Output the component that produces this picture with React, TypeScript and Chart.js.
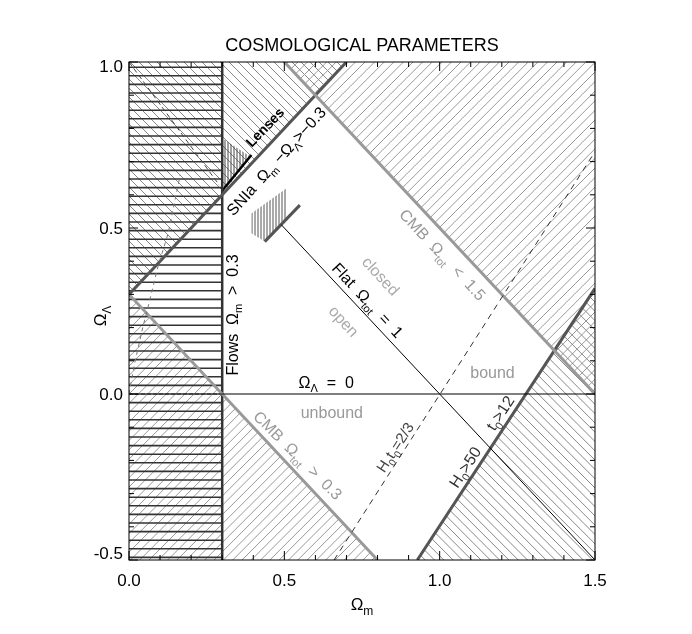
import React, { useEffect, useRef } from "react";
import { Chart, registerables } from "chart.js";
Chart.register(...registerables);

// ---- axes ----
const xRange = [0, 1.5];
const yRange = [-0.5, 1.0];
const xTickValues = [0, 0.5, 1.0, 1.5];
const yTickValues = [-0.5, 0, 0.5, 1.0];
const minorStep = 0.1;
const titleText = "COSMOLOGICAL PARAMETERS";

// ---- constraint lines (Omega_m, Omega_Lambda) ----
const flowsLine = [{ x: 0.3, y: -0.5 }, { x: 0.3, y: 1.0 }];
const sniaLine = [{ x: 0.0, y: 0.3 }, { x: 0.7, y: 1.0 }];
const cmbLowLine = [{ x: 0.0, y: 0.3 }, { x: 0.8, y: -0.5 }];
const cmbHighLine = [{ x: 0.5, y: 1.0 }, { x: 1.5, y: 0.0 }];
const ageLine = [{ x: 0.928, y: -0.5 }, { x: 1.5, y: 0.318 }];
const lambdaZeroLine = [{ x: 0.3, y: 0.0 }, { x: 1.5, y: 0.0 }];
const lambdaZeroLeft = [{ x: 0.0, y: 0.0 }, { x: 0.3, y: 0.0 }];
const flatLine = [{ x: 0.49, y: 0.51 }, { x: 1.5, y: -0.5 }];
const h0t0Line = [{ x: 0.66, y: -0.5 }, { x: 1.5, y: 0.73 }];
const lensSegment = [{ x: 0.3, y: 0.612 }, { x: 0.394, y: 0.72 }];
const sniaSegment = [{ x: 0.437, y: 0.459 }, { x: 0.55, y: 0.569 }];
const leftCurve = [
  { x: 0.0, y: 0.0 }, { x: 0.018, y: 0.092 }, { x: 0.045, y: 0.203 }, { x: 0.067, y: 0.283 },
  { x: 0.093, y: 0.383 }, { x: 0.126, y: 0.484 }, { x: 0.148, y: 0.584 }, { x: 0.165, y: 0.66 },
];
const leftDashed = [{ x: 0.0, y: 1.0 }, { x: 0.29, y: 0.63 }];

// ---- excluded regions (polygons) ----
const flowsRegion = [[0, -0.5], [0.3, -0.5], [0.3, 1.0], [0, 1.0]];
const sniaRegion = [[0, 0.3], [0.7, 1.0], [0, 1.0]];
const cmbLowRegion = [[0, 0.3], [0.8, -0.5], [0, -0.5]];
const cmbHighRegion = [[0.5, 1.0], [1.5, 1.0], [1.5, 0.0]];
const ageRegion = [[0.928, -0.5], [1.5, -0.5], [1.5, 0.318]];
const lensRegion = [[0.3, 0.61], [0.3, 0.77], [0.39, 0.715]];
const sniaBoxRegion = [[0.394, 0.544], [0.394, 0.484], [0.437, 0.459], [0.507, 0.531], [0.507, 0.62]];

const FONT = '"Liberation Sans", Arial, Helvetica, sans-serif';

type Seg = [string, boolean?];
const labels: { x: number; y: number; a: number; segs: Seg[]; size: number; color: string; bold?: boolean }[] = [
  { x: 0.437, y: 0.804, a: -46, segs: [["Lenses"]], size: 14, color: "#000", bold: true },
  { x: 0.473, y: 0.702, a: -48, segs: [["SNIa  Ω"], ["m", true], [" −Ω"], ["Λ", true], [">−0.3"]], size: 16, color: "#000" },
  { x: 1.01, y: 0.42, a: 47, segs: [["CMB  Ω"], ["tot", true], ["  <  1.5"]], size: 16, color: "#999" },
  { x: 0.811, y: 0.356, a: 47, segs: [["closed"]], size: 16, color: "#aaa" },
  { x: 0.692, y: 0.22, a: 47, segs: [["open"]], size: 16, color: "#aaa" },
  { x: 0.769, y: 0.283, a: 47, segs: [["Flat  Ω"], ["tot", true], ["  =  1"]], size: 16, color: "#000" },
  { x: 0.331, y: 0.238, a: -90, segs: [["Flows  Ω"], ["m", true], ["  >  0.3"]], size: 16, color: "#000" },
  { x: 0.635, y: 0.036, a: 0, segs: [["Ω"], ["Λ", true], ["  =  0"]], size: 16, color: "#000" },
  { x: 1.17, y: 0.066, a: 0, segs: [["bound"]], size: 16, color: "#999" },
  { x: 0.653, y: -0.054, a: 0, segs: [["unbound"]], size: 16, color: "#999" },
  { x: 0.544, y: -0.184, a: 45, segs: [["CMB  Ω"], ["tot", true], ["  >  0.3"]], size: 16, color: "#999" },
  { x: 0.856, y: -0.16, a: -57, segs: [["H"], ["0", true], ["t"], ["0", true], ["=2/3"]], size: 15, color: "#444" },
  { x: 1.081, y: -0.22, a: -57, segs: [["H"], ["0", true], [">50"]], size: 16, color: "#333" },
  { x: 1.194, y: -0.057, a: -57, segs: [["t"], ["0", true], [">12"]], size: 16, color: "#333" },
];

function drawRich(ctx: CanvasRenderingContext2D, x: number, y: number, angle: number, segs: Seg[], size: number, color: string, bold = false) {
  ctx.save();
  ctx.translate(x, y);
  ctx.rotate((angle * Math.PI) / 180);
  ctx.fillStyle = color;
  ctx.textBaseline = "alphabetic";
  ctx.textAlign = "left";
  const fontFor = (sub?: boolean) => `${bold ? "bold " : ""}${sub ? Math.round(size * 0.68) : size}px ${FONT}`;
  const widths = segs.map(([t, sub]) => {
    ctx.font = fontFor(sub);
    return ctx.measureText(t).width;
  });
  const total = widths.reduce((a, b) => a + b, 0);
  let cx = -total / 2;
  const base = size * 0.36;
  segs.forEach(([t, sub], i) => {
    ctx.font = fontFor(sub);
    ctx.fillText(t, cx, sub ? base + size * 0.28 : base);
    cx += widths[i];
  });
  ctx.restore();
}

type Hatch = { poly: number[][]; kind: "h" | "v" | "/" | "\\"; spacing: number; color: string; width: number };
const hatches: Hatch[] = [
  { poly: cmbLowRegion, kind: "/", spacing: 9.3, color: "#999", width: 1 },
  { poly: sniaRegion, kind: "\\", spacing: 9, color: "#888", width: 1 },
  { poly: cmbHighRegion, kind: "/", spacing: 9.6, color: "#999", width: 1 },
  { poly: ageRegion, kind: "\\", spacing: 9.3, color: "#888", width: 1 },
  { poly: flowsRegion, kind: "h", spacing: 8.6, color: "#333", width: 1.6 },
  { poly: lensRegion, kind: "v", spacing: 3, color: "#444", width: 1 },
  { poly: sniaBoxRegion, kind: "v", spacing: 3, color: "#555", width: 1 },
];

const hatchPlugin = {
  id: "hatch",
  beforeDatasetsDraw(chart: any) {
    const { ctx, chartArea: ca, scales } = chart;
    const sx = scales.x, sy = scales.y;
    const x0 = sx.getPixelForValue(0), y0 = sy.getPixelForValue(0);
    hatches.forEach((h) => {
      ctx.save();
      ctx.beginPath();
      ctx.rect(ca.left, ca.top, ca.right - ca.left, ca.bottom - ca.top);
      ctx.clip();
      ctx.beginPath();
      h.poly.forEach(([px, py], i) => {
        const X = sx.getPixelForValue(px), Y = sy.getPixelForValue(py);
        if (i === 0) ctx.moveTo(X, Y);
        else ctx.lineTo(X, Y);
      });
      ctx.closePath();
      ctx.clip();
      ctx.strokeStyle = h.color;
      ctx.lineWidth = h.width;
      ctx.beginPath();
      const s = h.spacing;
      const L = ca.left - 5, R = ca.right + 5, T = ca.top - 5, B = ca.bottom + 5;
      if (h.kind === "h") {
        const k0 = Math.floor((T - y0) / s), k1 = Math.ceil((B - y0) / s);
        for (let k = k0; k <= k1; k++) {
          const y = y0 + k * s;
          ctx.moveTo(L, y);
          ctx.lineTo(R, y);
        }
      } else if (h.kind === "v") {
        const k0 = Math.floor((L - x0) / s), k1 = Math.ceil((R - x0) / s);
        for (let k = k0; k <= k1; k++) {
          const x = x0 + k * s;
          ctx.moveTo(x, T);
          ctx.lineTo(x, B);
        }
      } else if (h.kind === "/") {
        const c0 = x0 + y0;
        const k0 = Math.floor((L + T - c0) / s), k1 = Math.ceil((R + B - c0) / s);
        for (let k = k0; k <= k1; k++) {
          const c = c0 + k * s;
          ctx.moveTo(c - T, T);
          ctx.lineTo(c - B, B);
        }
      } else {
        const c0 = x0 - y0;
        const k0 = Math.floor((L - B - c0) / s), k1 = Math.ceil((R - T - c0) / s);
        for (let k = k0; k <= k1; k++) {
          const c = c0 + k * s;
          ctx.moveTo(c + T, T);
          ctx.lineTo(c + B, B);
        }
      }
      ctx.stroke();
      ctx.restore();
    });
  },
  afterDatasetsDraw(chart: any) {
    const { ctx, chartArea: ca, scales } = chart;
    const sx = scales.x, sy = scales.y;
    // labels inside
    labels.forEach((l) => {
      drawRich(ctx, sx.getPixelForValue(l.x), sy.getPixelForValue(l.y), l.a, l.segs, l.size, l.color, l.bold);
    });
    // frame
    ctx.save();
    ctx.strokeStyle = "#000";
    ctx.lineWidth = 1;
    ctx.strokeRect(ca.left, ca.top, ca.right - ca.left, ca.bottom - ca.top);
    // ticks
    ctx.beginPath();
    const nx = Math.round((xRange[1] - xRange[0]) / minorStep);
    for (let i = 0; i <= nx; i++) {
      const v = xRange[0] + i * minorStep;
      const major = xTickValues.some((t) => Math.abs(t - v) < 1e-6);
      const len = major ? 9 : 5;
      const X = sx.getPixelForValue(v);
      ctx.moveTo(X, ca.bottom);
      ctx.lineTo(X, ca.bottom - len);
      ctx.moveTo(X, ca.top);
      ctx.lineTo(X, ca.top + len);
    }
    const ny = Math.round((yRange[1] - yRange[0]) / minorStep);
    for (let i = 0; i <= ny; i++) {
      const v = yRange[0] + i * minorStep;
      const major = yTickValues.some((t) => Math.abs(t - v) < 1e-6);
      const len = major ? 9 : 5;
      const Y = sy.getPixelForValue(v);
      ctx.moveTo(ca.left, Y);
      ctx.lineTo(ca.left + len, Y);
      ctx.moveTo(ca.right, Y);
      ctx.lineTo(ca.right - len, Y);
    }
    ctx.stroke();
    // tick labels
    ctx.fillStyle = "#000";
    ctx.font = `17px ${FONT}`;
    ctx.textAlign = "center";
    ctx.textBaseline = "middle";
    xTickValues.forEach((v) => {
      ctx.fillText(v.toFixed(1), sx.getPixelForValue(v), ca.bottom + 21);
    });
    ctx.textAlign = "right";
    yTickValues.forEach((v) => {
      let Y = sy.getPixelForValue(v) + 1;
      Y = Math.max(ca.top + 5, Math.min(ca.bottom - 6, Y));
      ctx.fillText(v.toFixed(1), ca.left - 6, Y);
    });
    // title
    ctx.textAlign = "center";
    ctx.font = `18px ${FONT}`;
    ctx.fillText(titleText, (ca.left + ca.right) / 2, ca.top - 16);
    ctx.restore();
    // axis titles
    drawRich(ctx, (ca.left + ca.right) / 2, ca.bottom + 44, 0, [["Ω"], ["m", true]], 17, "#000");
    drawRich(ctx, ca.left - 29, (ca.top + ca.bottom) / 2 + 5, -90, [["Ω"], ["Λ", true]], 17, "#000");
  },
};

function lineDs(data: any[], color: string, width: number, dash: number[] = []) {
  return {
    data,
    showLine: true,
    borderColor: color,
    backgroundColor: color,
    borderWidth: width,
    borderDash: dash,
    pointRadius: 0,
    fill: false,
    tension: 0,
  };
}

export default function App() {
  const ref = useRef<HTMLCanvasElement>(null);
  useEffect(() => {
    if (!ref.current) return;
    const chart = new Chart(ref.current, {
      type: "scatter",
      data: {
        datasets: [
          lineDs(leftCurve, "#777", 1, [4, 4]),
          lineDs(leftDashed, "#444", 1, [5, 3]),
          lineDs(h0t0Line, "#333", 1, [6, 5]),
          lineDs(lambdaZeroLeft, "#222", 1, [4, 2]),
          lineDs(lambdaZeroLine, "#000", 1),
          lineDs(flatLine, "#000", 1),
          lineDs(cmbLowLine, "#999", 3),
          lineDs(cmbHighLine, "#999", 3),
          lineDs(sniaLine, "#555", 3),
          lineDs(ageLine, "#555", 3),
          lineDs(flowsLine, "#333", 2.5),
          lineDs(lensSegment, "#000", 2.5),
          lineDs(sniaSegment, "#555", 3),
        ] as any,
      },
      options: {
        animation: false,
        responsive: false,
        events: [],
        layout: { padding: { left: 129, top: 62, right: 97, bottom: 74 } },
        plugins: { legend: { display: false }, tooltip: { enabled: false }, title: { display: false } },
        scales: {
          x: { type: "linear", min: xRange[0], max: xRange[1], display: false },
          y: { type: "linear", min: yRange[0], max: yRange[1], display: false },
        },
      },
      plugins: [hatchPlugin],
    });
    return () => chart.destroy();
  }, []);
  return (
    <div style={{ position: "fixed", left: 0, top: 0, width: 692, height: 634, background: "#fff" }}>
      <canvas ref={ref} width={692} height={634} style={{ display: "block" }} />
    </div>
  );
}
